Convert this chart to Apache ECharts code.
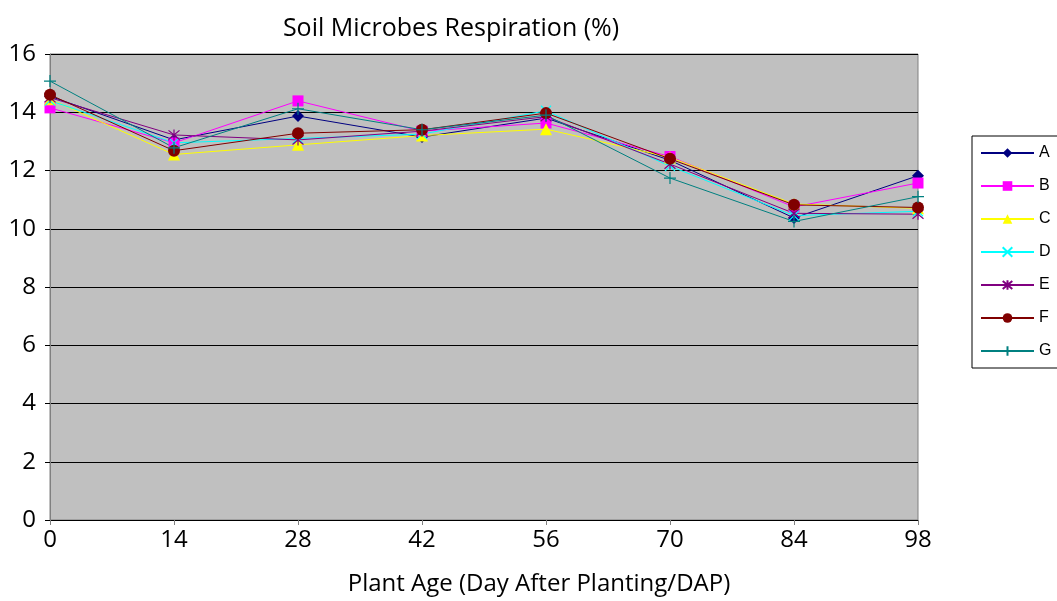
<!DOCTYPE html>
<html>
<head>
<meta charset="utf-8">
<script src="https://cdn.jsdelivr.net/npm/echarts@6/dist/echarts.min.js"></script>
<style>
    html, body { margin: 0; padding: 0; background: #fff; }
    #chart { width: 1057px; height: 601px; }
</style>
</head>
<body>
<div id="chart"></div>
<script>
// days after planting
const days = [0, 14, 28, 42, 56, 70, 84, 98]

const seriesA = [14.55, 13.05, 13.87, 13.15, 13.8, 12.35, 10.37, 11.82]
const seriesB = [14.15, 12.95, 14.39, 13.35, 13.63, 12.48, 10.75, 11.57]
const seriesC = [14.45, 12.55, 12.88, 13.2, 13.42, 12.45, 10.85, 10.7]
const seriesD = [14.4, 12.95, 13.1, 13.25, 14.05, 12.15, 10.45, 10.6]
const seriesE = [14.5, 13.22, 13.05, 13.35, 13.85, 12.22, 10.53, 10.5]
const seriesF = [14.6, 12.68, 13.28, 13.4, 13.97, 12.4, 10.82, 10.73]
const seriesG = [15.07, 12.78, 14.12, 13.4, 13.9, 11.74, 10.25, 11.1]

const yTicks = [0, 2, 4, 6, 8, 10, 12, 14, 16]

const chart = echarts.init(document.getElementById('chart'))

const xMark = 'path://M0,0L10,10M10,0L0,10'
const starMark = 'path://M0,0L10,10M10,0L0,10M5,-1L5,11'
const plusMark = 'path://M5,0L5,10M0,5L10,5'

function makeSeries(name, values, color, symbol, size, filled) {
    return {
        name: name,
        type: 'line',
        data: days.map((d, i) => [d, values[i]]),
        symbol: symbol,
        symbolSize: size,
        showAllSymbol: true,
        lineStyle: { color: color, width: 1 },
        itemStyle: filled
            ? { color: color, borderWidth: 0 }
            : { color: 'rgba(0,0,0,0)', borderColor: color, borderWidth: 1.2 },
        emphasis: { disabled: true }
    }
}

chart.setOption({
    animation: false,
    textStyle: { fontFamily: 'Open Sans' },
    title: {
        text: 'Soil Microbes Respiration (%)',
        left: 446,
        top: 11,
        textAlign: 'center',
        textStyle: { fontFamily: 'Open Sans', fontSize: 25, fontWeight: 'normal', color: '#000' }
    },
    legend: {
        orient: 'vertical',
        left: 972,
        top: 136,
        padding: [9, 30, 9, 8],
        borderColor: '#000',
        borderWidth: 1,
        itemWidth: 53,
        itemHeight: 12,
        itemGap: 17,
        textStyle: { fontFamily: 'Liberation Sans', fontSize: 16, lineHeight: 14, color: '#000' },
        data: ['A', 'B', 'C', 'D', 'E', 'F', 'G']
    },
    grid: {
        left: 50,
        right: 139,
        top: 54,
        bottom: 81,
        outerBoundsMode: 'none',
        show: true,
        backgroundColor: '#C0C0C0',
        borderColor: '#808080',
        borderWidth: 1
    },
    xAxis: {
        type: 'value',
        min: 0,
        max: 98,
        interval: 14,
        name: 'Plant Age (Day After Planting/DAP)',
        nameLocation: 'middle',
        nameGap: 52,
        nameTextStyle: { fontSize: 24, color: '#000', padding: [0, 0, 0, 110] },
        axisLine: { lineStyle: { color: '#000', width: 1 } },
        axisTick: { show: true, length: 5, lineStyle: { color: '#808080' } },
        axisLabel: { fontSize: 24, color: '#000', margin: 8 },
        splitLine: { show: false }
    },
    yAxis: {
        type: 'value',
        min: yTicks[0],
        max: yTicks[yTicks.length - 1],
        interval: 2,
        axisLine: { show: true, lineStyle: { color: '#808080', width: 1 } },
        axisTick: { show: true, length: 5, lineStyle: { color: '#000' } },
        axisLabel: { fontSize: 24, color: '#000', margin: 14 },
        splitLine: { show: true, lineStyle: { color: '#000', width: 1 } }
    },
    series: [
        makeSeries('A', seriesA, '#000080', 'diamond', 12, true),
        makeSeries('B', seriesB, '#FF00FF', 'rect', 11, true),
        makeSeries('C', seriesC, '#FFFF00', 'triangle', 12, true),
        makeSeries('D', seriesD, '#00FFFF', xMark, 10, false),
        makeSeries('E', seriesE, '#800080', starMark, 11, false),
        makeSeries('F', seriesF, '#800000', 'circle', 12, true),
        makeSeries('G', seriesG, '#008080', plusMark, 12, false)
    ]
})
</script>
</body>
</html>
